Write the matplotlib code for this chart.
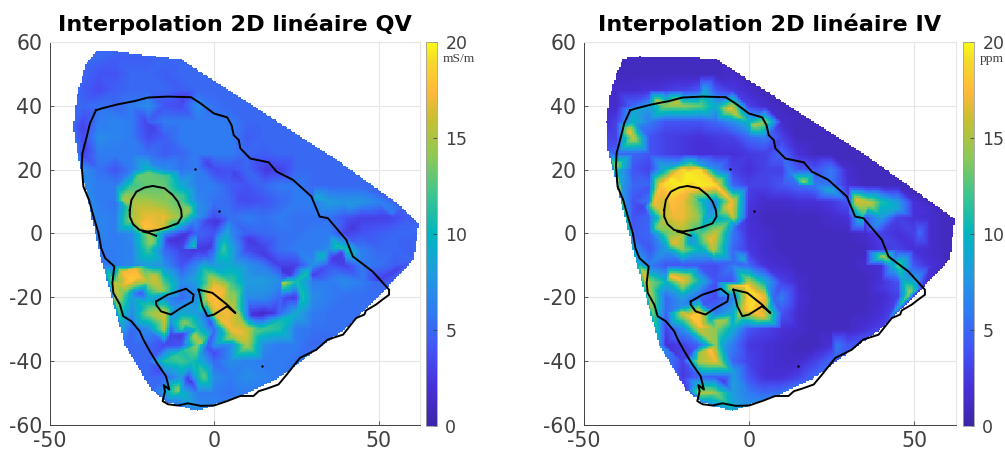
import numpy as np
import matplotlib
matplotlib.use("Agg")
import matplotlib.pyplot as plt
import matplotlib.tri as mtri
from matplotlib.colors import LinearSegmentedColormap

n = np.nan

# columns and rows of the values
x_cols = [-40, -35, -30, -25, -20, -15, -10, -5, 0, 5, 10, 15, 20, 25, 30, 35, 40, 45, 50, 55, 60]
y_rows = [55, 50, 45, 40, 35, 30, 25, 20, 15, 10, 5, 0, -5, -10, -15, -20, -25, -30, -35, -40, -45, -50, -55]

qv_grid = [
    [n, 5, 4.5, 4.5, 4.5, 5, n, n, n, n, n, n, n, n, n, n, n, n, n, n, n],
    [n, 4, 4, 5, 5, 4.5, 5, 5, n, n, n, n, n, n, n, n, n, n, n, n, n],
    [4.5, 3.5, 4.5, 5, 5, 5, 4.5, 5, 5, n, n, n, n, n, n, n, n, n, n, n, n],
    [5, 5.5, 5, 6, 7, 4, 3.5, 7, 5.5, 5, 5, n, n, n, n, n, n, n, n, n, n],
    [3.5, 6, 6.5, 6, 4.5, 6, 6, 6, 6, 6, 5, 5, n, n, n, n, n, n, n, n, n],
    [3.5, 7, 6.5, 6, 3.5, 4.5, 6, 6, 6, 6, 4.5, 5, 5, 5, n, n, n, n, n, n, n],
    [3, 6, 6, 6, 5.5, 4.5, 5, 6, 6, 6, 5, 4.5, 5, 5, 5, n, n, n, n, n, n],
    [7, 5.5, 4, 6, 10, 7, 5.5, 6, 3.5, 4, 5, 3, 3, 5, 5, 5, 5, n, n, n, n],
    [n, 6, 6, 12, 13, 13, 9, 6, 6, 4.5, 4, 5, 6, 6, 5, 5, 5, 5, n, n, n],
    [n, 6, 5.5, 15, 15, 14, 12.5, 7, 5.5, 5, 3.5, 4, 5, 6, 6, 8, 7.5, 7.5, 6.5, n, n],
    [n, 6.5, 6, 15, 17, 17, 14, 7.5, 3.5, 5.5, 6, 5.5, 6, 5.5, 5.5, 5.5, 4, 3, 3, 3.5, 4.5],
    [n, 6.5, 6, 7, 14, 7, 3, 5, 4, 7, 4.5, 5, 5.5, 5.5, 6, 6, 3, 4, 4.5, 5, 5],
    [n, n, 6, 6.5, 12, 5, 4, 2.5, 5, 9, 3.5, 3, 5.5, 6, 6, 7, 11, 6, 5, 5, 4.5],
    [n, n, 6, 6.5, 8, 7, 4, 7, 8, 9, 7.5, 6, 3, 3, 7, 4, 3, 6, 5.5, 4.5, n],
    [n, n, 13, 18, 15, 12, 7, 8, 16, 12, 8, 8, 7, 11, 6, 6, 7, 6, 5, n, n],
    [n, n, 15, 8, 9, 7, 5, 7, 18, 14, 7, 7, 5, 3, 7, 6, 5.5, 5.5, n, n, n],
    [n, n, n, 7, 14, 16, 9, 8, 16, 17, 7, 1.5, 5, 9, 6, 5.5, 5.5, n, n, n, n],
    [n, n, n, 5, 7, 15, 12, 11, 5, 17, 16, 12, 11, 6, 5.5, 5.5, n, n, n, n, n],
    [n, n, n, 5, 5, 3.5, 4, 14, 7, 7, 15, 7, 6, 6, 5, n, n, n, n, n, n],
    [n, n, n, n, 5, 11, 12, 10, 5, 7, 6.5, 6, 6, n, n, n, n, n, n, n, n],
    [n, n, n, n, 5, 5, 8, 10, 7, 6, 7, 6.5, n, n, n, n, n, n, n, n, n],
    [n, n, n, n, n, 8, 10, 6, 6, 5.5, n, n, n, n, n, n, n, n, n, n, n],
    [n, n, n, n, n, n, n, 7, n, n, n, n, n, n, n, n, n, n, n, n, n],
]

iv_grid = [
    [n, 1, 1, 1, 1, 1, n, n, n, n, n, n, n, n, n, n, n, n, n, n, n],
    [n, 1, 1, 1, 1, 1, 1, 1.5, n, n, n, n, n, n, n, n, n, n, n, n, n],
    [1.5, 1.5, 2, 2.5, 3, 4, 4, 2.5, 1.5, n, n, n, n, n, n, n, n, n, n, n, n],
    [1.5, 5, 8, 14, 14, 13, 9, 15, 3, 1.5, 1, n, n, n, n, n, n, n, n, n, n],
    [3, 10, 6, 4, 4, 4, 5, 7, 10, 14, 1.5, 1, n, n, n, n, n, n, n, n, n],
    [3, 16, 4, 3, 2.5, 2, 2.5, 3, 5, 6, 3, 1, 1, 1, n, n, n, n, n, n, n],
    [5, 5, 4, 3, 2.5, 2, 2, 2, 2.5, 3, 5, 2, 1, 1, 1, n, n, n, n, n, n],
    [10, 4, 3, 10, 19, 19, 7, 3, 2, 3, 3, 4, 4, 6, 1.5, 1, 1, n, n, n, n],
    [n, 5, 5, 19, 19.5, 19.5, 19, 5, 3, 3, 4, 5, 6, 6, 2, 1, 1, 1, n, n, n],
    [n, 4, 6, 16, 17, 12, 7, 17, 2.5, 1.5, 1.5, 2, 2, 2.5, 4, 16, 11, 8, 2, n, n],
    [n, 4, 5, 16, 17, 14, 9, 16, 2, 1, 1, 1, 1, 1.5, 2, 4, 8, 3, 2, 1.5, 1],
    [n, 4.5, 5, 13, 15, 12, 16, 6, 2, 1.5, 1, 1, 1, 1, 1, 1.5, 3, 2, 3, 1.5, 1],
    [n, n, 4, 8, 14, 10, 14, 5, 2.5, 1.5, 1, 1, 1, 1, 1, 1, 2.5, 3, 2, 1.5, 1],
    [n, n, 6, 4, 4, 4, 3.5, 6, 5, 2, 1.5, 1, 1, 1, 1, 1.5, 2, 13, 4, 2, n],
    [n, n, 14, 10, 17, 10, 4, 4, 15, 9, 3, 1.5, 1, 1, 1, 1, 2, 4, 9, n, n],
    [n, n, 16, 5, 8, 5, 3.5, 6, 19, 17, 6, 2, 1, 1, 1, 1, 1.5, 3, n, n, n],
    [n, n, n, 5, 16, 18, 6, 9, 16, 16, 4, 1.5, 1, 1, 1, 1.2, 2, n, n, n, n],
    [n, n, n, 3, 7, 16, 14, 9, 4, 3, 2, 1.5, 1, 1, 1.2, 2, n, n, n, n, n],
    [n, n, n, 2, 3, 5, 14, 6, 2.5, 2, 1.5, 1, 1, 2, 4, n, n, n, n, n, n],
    [n, n, n, n, 3, 15, 17, 5, 3, 2, 1.5, 1.5, 3, n, n, n, n, n, n, n, n],
    [n, n, n, n, 2.5, 5, 4.5, 8, 4, 2, 2, 3, n, n, n, n, n, n, n, n, n],
    [n, n, n, n, n, 15, 14, 8, 6, 5, n, n, n, n, n, n, n, n, n, n, n],
    [n, n, n, n, n, n, n, 9, n, n, n, n, n, n, n, n, n, n, n, n, n],
]

# sharper spots between the grid lines: (x, y, value)
qv_extra = [
    (-21, 2, 18), (-17, 6.3, 16.5), (-24, 8.4, 15.5), (-21, 12.6, 13.5), (-14, 11.6, 14), (-11, 6.3, 14),
    (-16, 2, 16.5), (-26, 8.4, 12), (-27.6, 10.5, 15), (-20, 19, 13), (-23, 18, 13), (-14, 18, 12),
    (-9.5, 11.5, 12), (-7.5, 7.4, 14), (-10, 2, 8), (-30, 10.5, 6), (-19, 22, 6.5), (-5, 10.5, 6.5),
    (-6, 4.3, 7), (-11, -1.5, 2), (-14, -2, 2.5), (-8, 0, 2.5), (-10, -5, 3), (-19, -2.5, 15),
    (-6, -4, 11), (-1, -4, 2.5), (-3, -6, 3), (1, 3.7, 2), (-2, 4, 3), (4, 0, 9), (3, -4.5, 12),
    (10.5, -2, 2.5), (14.5, -6, 2.5), (21, -11.4, 2), (23, -13, 2.5), (21, -15.5, 15), (27, -20, 11),
    (19, -28, 11), (14, -29.6, 11), (14.5, -25.4, 1.5), (11.5, -25.4, 2), (18, -25, 2.5), (22, -20, 3),
    (24, -20, 2.5), (33, -7, 10), (37, -4, 11), (28, -12.5, 11), (36, -7.7, 2.5), (30, -13, 3), (39, -6, 3),
    (31, 11, 9), (41, 8.4, 7.5), (54, 6.4, 6), (53, 5.3, 3), (42, 1.7, 2.5), (40, 0, 3), (56, -11, 3),
    (50, -14.5, 3), (-9, 43, 3), (-21, 35.5, 3.5), (-19, 33.4, 3), (-40, 33, 3), (-39, 26, 3), (-2, 22, 3),
    (6, 19, 3), (16, 20, 2.5), (8, 10.5, 3.5), (-26, -14, 18), (-23, -13.4, 18), (-30, -15.5, 16),
    (-19, -14, 16), (-16, -17.6, 15), (-22, -18.6, 4), (-24, -18.6, 6), (-27, -18.6, 13), (-29, -19.7, 15),
    (-20, -22.8, 12), (-15, -27, 16), (-12, -22.8, 7), (-13, -27.5, 8), (-9, -28, 14), (-10, -31.7, 2.5),
    (-13, -31.7, 3), (-6, -32, 15), (-4, -34.3, 15), (-8, -31, 6), (-1, -28, 4), (-2, -26, 5), (2, -27, 17),
    (0, -16.5, 17), (-2, -19.7, 17), (1, -22.8, 17.5), (4, -26, 17), (8, -31, 17), (10, -33, 16),
    (12, -31, 13), (6, -20.7, 15), (-3, -11.4, 11), (-5, -14.5, 9), (-2, -35.3, 4), (0, -37.4, 3.5),
    (-8, -45.7, 2.5), (-6.5, -46.8, 3), (-3, -44.7, 13), (-12, -38.4, 12), (-11, -49, 14), (-17, -42.6, 3.5),
    (-28, -12, 17), (-24, -11, 17), (-27, -16, 17), (-25, -16.5, 14), (-21, -11, 12), (-18, -13.4, 16),
    (3, -17.6, 17), (6, -22.8, 15), (8, -27, 15), (5, -30, 17), (6, -32, 16), (2, -20.7, 17),
    (-10, -37, 11), (-7, -40, 11),
]

iv_extra = [
    (-18.7, 19, 19.5), (-23.7, 16.8, 19.5), (-13.7, 14.7, 19.5), (-11.6, 16.8, 19), (-15.7, 22, 8), (-21.7, 22, 7),
    (-17.7, 21.5, 13), (-12.6, 5.3, 8), (-14.7, 10.5, 10), (-18.7, 12.6, 17), (-23.7, 10.5, 18), (-22.7, 5.3, 17),
    (-16.7, 2, 13), (-11.6, 8.4, 7), (-6.6, 8.4, 17), (-5.6, 4.3, 11), (-3.6, 2, 4), (-11.6, -2, 17),
    (-15.7, -4, 9), (-22.7, -3, 17), (-27.7, 2, 14), (-28.7, 9.5, 17), (-32, 8.4, 3), (-30, 14.7, 4),
    (-10.6, -5, 16), (-13.6, -5, 10), (-17.7, -2, 7), (-4.6, -9, 5), (-1.6, -8, 9), (-23.7, -13.4, 18),
    (-31.7, -12.4, 17), (-29.6, -16.6, 14), (-18.7, -13.4, 15), (-0.6, -16.5, 19), (-4.6, -16.5, 17),
    (2.4, -19.6, 19), (5.4, -20.7, 16), (0.4, -23.9, 19), (4.4, -26, 17), (-2.6, -25, 15), (7.4, -20.7, 5),
    (-17.7, -26, 18), (-14.7, -29, 18), (-9.6, -27.5, 15), (-11.6, -27, 10), (-6.6, -27, 14), (-13.6, -22, 4),
    (-20.7, -22.8, 7), (-11.6, -36.4, 18), (-14.6, -37.4, 15), (-7.6, -35.3, 8), (-4.6, -43.6, 8),
    (-11.6, -49.9, 15), (-15.6, -46.8, 9), (-7.6, -46.2, 2.5), (-17.7, -37.4, 3), (32.5, 10.5, 17),
    (36.5, 9.5, 16), (44.6, 7.9, 9), (53.6, 6.9, 2), (38.6, 2.6, 7), (34.5, 5.2, 11), (16.5, 16, 15),
    (24.5, 13.7, 9), (12.4, 19, 6), (40.6, -7.2, 15), (48.6, -18.6, 15), (46.6, -14.5, 9), (43.6, -10.3, 9),
    (40.6, -16.5, 2.5), (51.6, 0.3, 5), (26.5, -35.3, 6), (-34.7, 38.6, 9), (-27.7, 41.3, 16), (-21.7, 41.3, 16),
    (-13.6, 44.4, 9), (-6, 39.2, 17), (-3.6, 37, 15), (1.4, 34, 15), (-36, 31.9, 18), (-40.5, 21, 15),
    (-33, 33.4, 6), (-25.7, 31, 3), (-27, 15, 18), (-17, 17, 19.5), (-22, 19, 18),
]

# edge of the measured zone
qv_hull_x = [-35.6, -31, -10, 16, 36, 57, 62.2, 60.7, 53, 41, 26, 19, 8, -5, -14, -19, -27, -34, -41.7, -42.7, -41.7, -39]
qv_hull_y = [57.2, 57.2, 54.5, 37, 24, 8.5, 3.2, -8.2, -16.5, -29, -39, -45.7, -51, -55.6, -53, -49, -35, -9.3, 26, 33.4, 43, 53]
qv_hull_v = [5, 5, 5, 5, 5, 5, 5, 5, 5, 5.5, 5.5, 6, 6, 7, 6, 5, 5, 5.5, 6, 5, 5, 5]

iv_hull_x = [-38, -33, -10, 16, 36, 57, 62.2, 60.7, 53, 41, 26, 19, 8, -5, -14, -19, -27, -34, -42.5, -43, -42, -40]
iv_hull_y = [54.8, 55.5, 54.8, 37, 24, 8.5, 4.5, -8.2, -16.5, -29, -39, -45.7, -51, -55.6, -53, -49, -35, -9.3, 26, 35, 43, 50]
iv_hull_v = [1, 1, 1, 1, 1, 1, 1, 1, 2, 3, 5, 5, 6, 9, 7, 3, 8, 9, 4, 2, 1.5, 1]

# contour of the lake and the islands
shore_x = [-35.9, -34.1, -29.1, -24.1, -20.1, -14.1, -7, -4, 0, 4, 5.3, 6, 7.5, 8, 11, 16.6, 19, 24, 29.6, 32.1, 34.6, 40.2, 42.2, 48.2, 53.2, 53.2, 51.2, 49.2, 46.2, 45.7, 43.2, 41.2, 39.2, 34.6, 31.1, 26.1, 24.1, 22.1, 19.6, 16.1, 13.6, 12, 8, 4, 0, -4, -8, -11, -14, -15.6, -14.9, -15.3, -13.6, -14.6, -17.1, -19.5, -21.5, -22.6, -25.1, -27.6, -28.6, -30.6, -30.9, -30.3, -33.1, -34.3, -35.1, -36.6, -38, -39.7, -40.2, -40, -38.7, -37.7, -35.9]
shore_y = [38.6, 39.2, 40.5, 41.5, 42.6, 42.9, 42.7, 40.7, 37.6, 36.4, 34, 30.8, 29.3, 26.7, 23.5, 22.3, 19.4, 16.8, 11.6, 5.3, 4.8, -2, -7.2, -11.9, -17.6, -19.2, -20.7, -22.3, -24.1, -25.4, -26.5, -29.1, -31.7, -33.2, -36.4, -39, -41.6, -44.2, -47.3, -48.6, -49.4, -50.9, -50.9, -52.5, -53.9, -54, -53.2, -53.9, -53.5, -52.5, -49.4, -47.5, -48.9, -44.7, -41, -36.9, -33.2, -30.6, -27.5, -25.9, -22.3, -18.6, -15.5, -10.3, -7.7, -4.6, 0.1, 5.3, 10.5, 14.7, 20.9, 25.1, 30.3, 34.5, 38.6]

lake1_x = [-25.6, -25.1, -23.6, -21.1, -18.6, -15.1, -12.6, -11, -10, -9.8, -11, -14.1, -17.1, -20.1, -22.6, -24.6, -25.6, -25.6, n, -21.6, -19.6, -17.6]
lake1_y = [7.4, 10.5, 13.1, 14.4, 14.9, 14.2, 12.1, 10, 7.4, 5.3, 3.2, 2, 1.1, 0.6, 1.1, 2.9, 5.3, 7.4, n, 0.6, 0.1, -0.7]
lake2_x = [-17.6, -14.1, -8.5, -6.2, -6.5, -10, -13.1, -16.1, -17.6, -17.6]
lake2_y = [-21.3, -19.2, -17.3, -19.2, -21.3, -23.3, -25.4, -24.4, -22.3, -21.3]
lake3_x = [-4.7, -0.5, 4, 6.5, 4, 0, -2, -3.5, -4.7]
lake3_y = [-17.6, -18.6, -22.3, -24.9, -22.8, -25.4, -25.9, -22.8, -17.6]

dots_x = [-5.8, 1.5, 14.7]
dots_y = [20.2, 7.1, -41.4]

# parula as it reads on the colorbars
cbar_pos = [0, 0.1, 0.2, 0.3, 0.4, 0.5, 0.6, 0.7, 0.8, 0.87, 0.95, 1]
cbar_col = ["#3e26a8", "#4730d8", "#4354f5", "#2f7cf2", "#1f9cdd", "#00b5c0", "#3bc58f", "#8cc857", "#c8bf32", "#feb83a", "#f6d92b", "#f9fb15"]

parula = LinearSegmentedColormap.from_list("parula", list(zip(cbar_pos, cbar_col)))
plt.rcParams["font.family"] = "DejaVu Sans"
plt.rcParams["axes.unicode_minus"] = False
dark = "#404040"


def draw_panel(ax_box, cbar_box, title, unit, grid, extra, hull_x, hull_y, hull_v):
    xx, yy = np.meshgrid(x_cols, y_rows)
    vals = np.array(grid, dtype=float)
    keep = ~np.isnan(vals)
    ex = np.array(extra, dtype=float)
    px = np.r_[xx[keep], ex[:, 0], hull_x]
    py = np.r_[yy[keep], ex[:, 1], hull_y]
    pv = np.r_[vals[keep], ex[:, 2], hull_v]

    # griddata-like linear interpolation on a regular mesh
    tri = mtri.Triangulation(px, py)
    interp = mtri.LinearTriInterpolator(tri, pv)
    gx, gy = np.meshgrid(np.arange(-50, 63, 0.5), np.arange(-60, 60, 0.5))
    gz = interp(gx, gy)

    ax = fig.add_axes(ax_box)
    ax.grid(True, color="#e6e6e6", linewidth=0.8)
    ax.set_axisbelow(True)
    mesh = ax.pcolormesh(gx, gy, gz, cmap=parula, vmin=0, vmax=20, shading="nearest", zorder=2)

    ax.plot(shore_x, shore_y, color="k", lw=1.4, zorder=3)
    ax.plot(lake1_x, lake1_y, color="k", lw=1.4, zorder=3)
    ax.plot(lake2_x, lake2_y, color="k", lw=1.4, zorder=3)
    ax.plot(lake3_x, lake3_y, color="k", lw=1.4, zorder=3)
    ax.plot(dots_x, dots_y, "k.", ms=1.5, zorder=3)

    ax.set_xlim(-50, 62.6)
    ax.set_ylim(-60, 60)
    ax.set_xticks([-50, 0, 50])
    ax.set_yticks([-60, -40, -20, 0, 20, 40, 60])
    ax.tick_params(direction="in", length=3, width=0.6, color=dark, labelcolor=dark, labelsize=14.8)
    ax.tick_params(axis="x", pad=4)
    ax.tick_params(axis="y", pad=5)
    for side in ["top", "right"]:
        ax.spines[side].set_color("#e6e6e6")
    for side in ["left", "bottom"]:
        ax.spines[side].set_color(dark)
        ax.spines[side].set_linewidth(0.7)
    ax.set_title(title, fontsize=16.1, fontweight="bold", pad=8)

    cax = fig.add_axes(cbar_box)
    cb = fig.colorbar(mesh, cax=cax, ticks=[0, 5, 10, 15, 20])
    cb.ax.tick_params(direction="in", length=3, width=0.6, color=dark, labelcolor=dark, labelsize=12.5, pad=6)
    cb.outline.set_edgecolor("#a0a0a0")
    cb.outline.set_linewidth(0.6)
    cax.text(1.55, 0.955, unit, transform=cax.transAxes, family="Liberation Serif", fontsize=9.7, color=dark, va="center")


W, H = 1005, 450
fig = plt.figure(figsize=(W / 100, H / 100), dpi=100)


def box(l, r, t, b):
    return [l / W, 1 - b / H, (r - l) / W, (b - t) / H]


draw_panel(box(49.5, 420, 42, 425), box(426, 437, 42, 426), "Interpolation 2D linéaire QV", "mS/m", qv_grid, qv_extra, qv_hull_x, qv_hull_y, qv_hull_v)
draw_panel(box(583.5, 956, 42, 425), box(963, 974, 42, 426), "Interpolation 2D linéaire IV", "ppm", iv_grid, iv_extra, iv_hull_x, iv_hull_y, iv_hull_v)

fig.savefig("out.png", dpi=100)
